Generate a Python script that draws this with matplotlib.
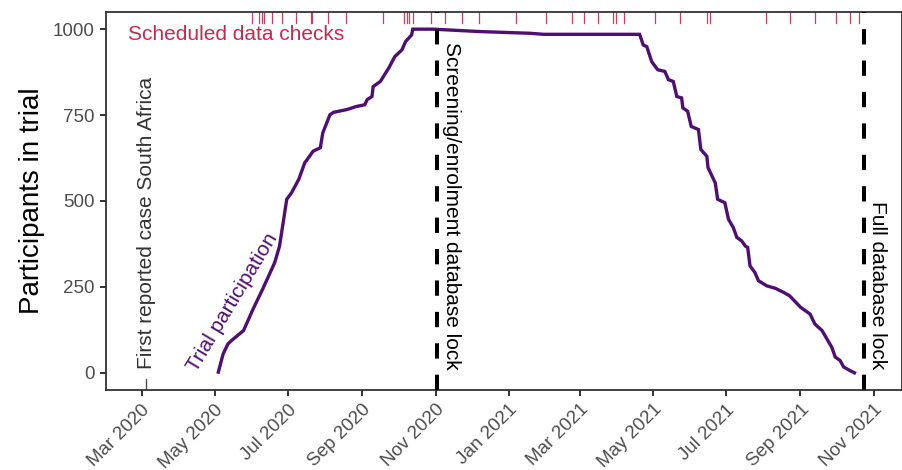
import matplotlib
matplotlib.use('Agg')
import matplotlib.pyplot as plt
import matplotlib.dates as mdates
import pandas as pd

plt.rcParams['font.family'] = ['Liberation Sans', 'DejaVu Sans']

# participants enrolled over time
trial_dates = ['2020-05-04', '2020-05-08', '2020-05-12', '2020-05-15', '2020-05-25', '2020-06-02',
               '2020-06-10', '2020-06-20', '2020-06-24', '2020-06-27', '2020-06-30', '2020-07-04',
               '2020-07-10', '2020-07-15', '2020-07-22', '2020-07-28', '2020-07-30', '2020-08-05',
               '2020-08-08', '2020-08-19', '2020-08-27', '2020-09-03', '2020-09-05', '2020-09-09',
               '2020-09-10', '2020-09-16', '2020-09-23', '2020-09-28', '2020-10-04', '2020-10-07',
               '2020-10-12', '2020-10-13', '2020-10-30', '2020-12-08', '2021-01-19', '2021-01-30',
               '2021-04-20', '2021-04-23', '2021-04-26', '2021-04-30', '2021-05-05', '2021-05-11',
               '2021-05-14', '2021-05-18', '2021-05-21', '2021-05-25', '2021-05-26', '2021-05-30',
               '2021-06-02', '2021-06-08', '2021-06-10', '2021-06-15', '2021-06-16', '2021-06-22',
               '2021-06-24', '2021-06-30', '2021-07-03', '2021-07-07', '2021-07-10', '2021-07-14',
               '2021-07-17', '2021-07-19', '2021-07-21', '2021-07-25', '2021-07-28', '2021-08-04',
               '2021-08-11', '2021-08-18', '2021-08-23', '2021-09-01', '2021-09-09', '2021-09-13',
               '2021-09-19', '2021-09-27', '2021-09-30', '2021-10-04', '2021-10-07', '2021-10-12',
               '2021-10-16']
participants = [2, 55, 84, 94, 123, 186,
                244, 321, 369, 437, 505, 524,
                563, 611, 645, 655, 698, 751,
                758, 766, 775, 780, 795, 804,
                833, 848, 887, 920, 940, 964,
                983, 1000, 1000, 993, 988, 985,
                985, 954, 949, 906, 882, 877,
                853, 848, 804, 800, 771, 761,
                717, 708, 650, 630, 597, 553,
                505, 495, 447, 423, 394, 384,
                369, 365, 311, 292, 268, 253,
                246, 234, 224, 191, 171, 142,
                123, 75, 46, 36, 17, 7,
                0]

# scheduled data checks (rug marks at top)
check_dates = ['2020-06-01', '2020-06-07', '2020-06-09', '2020-06-11', '2020-06-18', '2020-06-26',
               '2020-07-08', '2020-07-20', '2020-07-21', '2020-08-03', '2020-08-18', '2020-09-18',
               '2020-10-06', '2020-10-08', '2020-10-10', '2020-10-13', '2020-10-28', '2020-11-09',
               '2020-11-23', '2020-12-07', '2021-01-07', '2021-02-01', '2021-02-23', '2021-03-05',
               '2021-03-16', '2021-03-29', '2021-03-31', '2021-04-07', '2021-05-03', '2021-05-24',
               '2021-06-15', '2021-06-18', '2021-08-03', '2021-08-23', '2021-09-13', '2021-10-01',
               '2021-10-12', '2021-10-20']

first_case = '2020-03-05'
screening_lock = '2020-11-02'
full_lock = '2021-10-24'

tick_dates = ['2020-03-01', '2020-05-01', '2020-07-01', '2020-09-01', '2020-11-01', '2021-01-01',
              '2021-03-01', '2021-05-01', '2021-07-01', '2021-09-01', '2021-11-01']
tick_labels = ['Mar 2020', 'May 2020', 'Jul 2020', 'Sep 2020', 'Nov 2020', 'Jan 2021',
               'Mar 2021', 'May 2021', 'Jul 2021', 'Sep 2021', 'Nov 2021']

purple = '#4F0E72'
crimson = '#C42A4F'
grey = '#4D4D4D'

trial = pd.to_datetime(pd.Series(trial_dates))
checks = pd.to_datetime(pd.Series(check_dates))

fig = plt.figure(figsize=(9.02, 4.70), dpi=100)
ax = fig.add_axes([0.1175, 0.1702, 0.8825, 0.8043])

ax.plot(trial, participants, color=purple, linewidth=2.4, solid_joinstyle='miter')

for d in checks:
    ax.axvline(d, ymin=0.97, ymax=1.0, color=crimson, linewidth=0.9, alpha=0.9)

for d in [screening_lock, full_lock]:
    ax.axvline(pd.Timestamp(d), color='black', linewidth=2.9, dashes=(3.8, 4.0), zorder=3)

ax.plot([pd.Timestamp(first_case)] * 2, [-50, -17], color=grey, linewidth=1.0)

ax.text(pd.Timestamp(first_case), 10, 'First reported case South Africa', rotation=90,
        ha='center', va='bottom', fontsize=15, color='#333333')
ax.text(pd.Timestamp(screening_lock) + pd.Timedelta(days=4), 10, 'Screening/enrolment database lock',
        rotation=270, ha='left', va='bottom', fontsize=15, color='black')
ax.text(pd.Timestamp(full_lock) + pd.Timedelta(days=3), 10, 'Full database lock',
        rotation=270, ha='left', va='bottom', fontsize=15, color='black')
ax.text(pd.Timestamp('2020-05-16'), 205, 'Trial participation', rotation=59,
        ha='center', va='center', fontsize=15, color=purple, rotation_mode='anchor')
ax.text(pd.Timestamp('2020-02-19'), 985, 'Scheduled data checks', ha='left', va='center',
        fontsize=15, color=crimson)

x0 = mdates.date2num(pd.Timestamp('2020-03-01'))
ax.set_xlim(x0 - 29.6, x0 + 633.6)
ax.set_ylim(-50, 1050)

ax.set_xticks(pd.to_datetime(pd.Series(tick_dates)))
ax.set_xticklabels(tick_labels, rotation=45, ha='right', rotation_mode='anchor')
ax.set_yticks([0, 250, 500, 750, 1000])
ax.tick_params(axis='both', colors='#333333', labelcolor=grey, labelsize=13.5,
               width=1.4, length=4.5, direction='out')
ax.set_ylabel('Participants in trial', fontsize=20, color='black', labelpad=6)

for s in ax.spines.values():
    s.set_color('#333333')
    s.set_linewidth(1.3)

fig.savefig('out.png', dpi=100)
plt.close(fig)
